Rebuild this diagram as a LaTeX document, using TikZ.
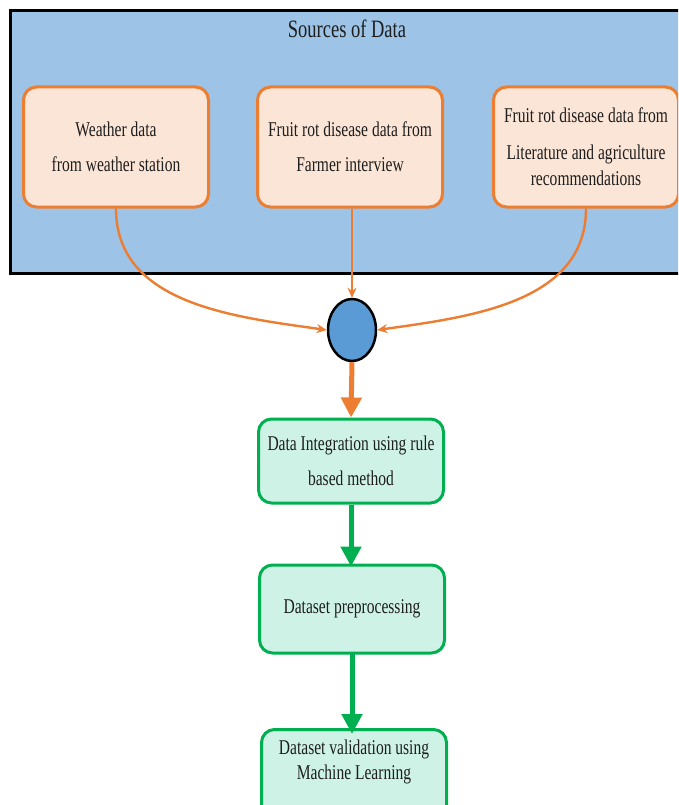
\documentclass[tikz,border=0pt]{standalone}
\usepackage{fontspec}
\setmainfont{Liberation Serif}[FakeStretch=0.74]
\usetikzlibrary{shapes.geometric,arrows.meta}

\definecolor{srcblue}{RGB}{157,195,230}
\definecolor{rotorange}{RGB}{237,125,49}
\definecolor{rotpeach}{RGB}{251,229,214}
\definecolor{hubblue}{RGB}{91,155,213}
\definecolor{stepgreen}{RGB}{0,176,80}
\definecolor{stepmint}{RGB}{206,243,230}
\definecolor{inkgray}{RGB}{30,30,30}

\tikzset{
    srcbox/.style={draw=rotorange, fill=rotpeach, line width=3pt, rounded corners=13pt,
        minimum width=185pt, minimum height=120pt, align=center, text=inkgray,
        font=\fontsize{21}{35}\selectfont},
    stagebox/.style={draw=stepgreen, fill=stepmint, line width=3pt, rounded corners=13pt,
        minimum width=185pt, align=center, text=inkgray,
        font=\fontsize{21}{35}\selectfont},
    feedline/.style={draw=rotorange, line width=2.4pt, -{Stealth[length=10pt,width=9pt]}},
    bigarrow/.style={line width=5pt, -{Triangle[length=20pt,width=20pt]}}
}

\begin{document}
\begin{tikzpicture}[x=1pt,y=-1pt]

    % page frame
    \clip (0,0) rectangle (678,805);
    \fill[white] (0,0) rectangle (678,805);

    % Sources of data panel
    \draw[fill=srcblue, line width=3pt] (10,11) rectangle (700,273);
    \node[text=inkgray, font=\fontsize{25}{30}\selectfont] (title) at (347,29) {Sources of Data};

    % the three sources
    \node[srcbox] (weather) at (116,147) {Weather data\\from weather station};
    \node[srcbox] (farmer) at (350,147) {Fruit rot disease data from\\Farmer interview};
    \node[srcbox] (liter) at (586,147) {Fruit rot disease data from\\[2pt]Literature and agriculture\\[-9pt]recommendations};

    % merge point
    \node[ellipse, draw=black, fill=hubblue, line width=2.5pt,
        minimum width=48pt, minimum height=62pt, inner sep=0pt] (hub) at (352,330) {};

    \draw[feedline] (weather.south) to[out=-90, in=172] (hub.west);
    \draw[feedline] (farmer.south -| hub.north) -- (hub.north);
    \draw[feedline] (liter.south) to[out=-90, in=8] (hub.east);

    % processing steps
    \node[stagebox, minimum height=84pt] (integr) at (351,461) {Data Integration using rule\\based method};
    \node[stagebox, minimum height=88pt] (prep) at (352,609) {Dataset preprocessing};
    \node[stagebox, minimum height=120pt, anchor=north] (valid) at (354,728) {};
    \node[text=inkgray, align=center, font=\fontsize{21}{25}\selectfont] (validtxt)
        at ([yshift=-34pt]valid.north) {Dataset validation using\\Machine Learning};

    \draw[bigarrow, rotorange] (hub.south) -- (integr.north);
    \draw[bigarrow, stepgreen] (integr.south) -- ([yshift=-3pt]integr.south |- prep.north);
    \draw[bigarrow, stepgreen] ([yshift=3pt]prep.south) -- ([yshift=-6pt]prep.south |- valid.north);

\end{tikzpicture}
\end{document}
